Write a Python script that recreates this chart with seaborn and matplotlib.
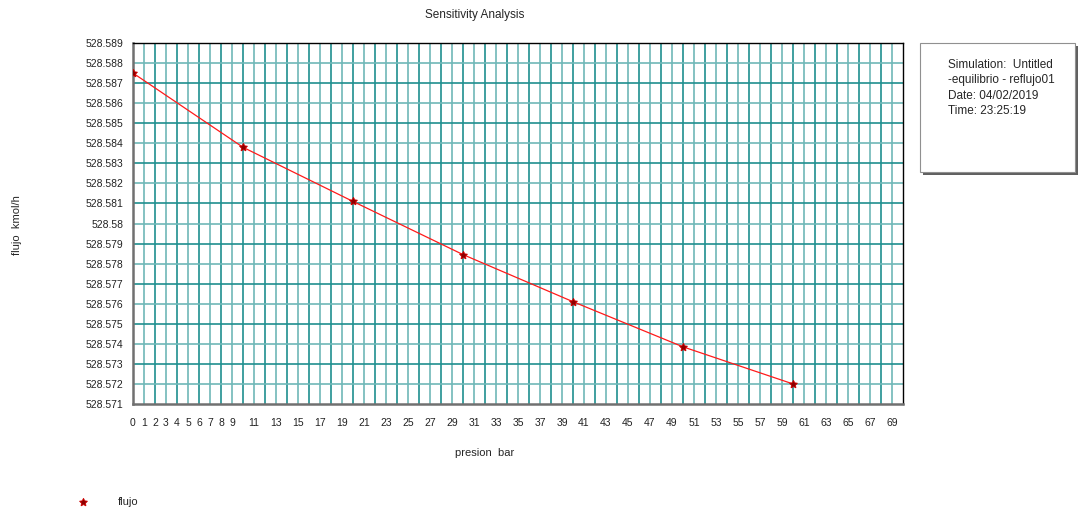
import numpy as np
import pandas as pd
import seaborn as sns
import matplotlib.pyplot as plt
from matplotlib.patches import Rectangle

# datos
presion = [0, 10, 20, 30, 40, 50, 60]
flujo = [528.5875, 528.5838, 528.5811, 528.57845, 528.5761, 528.57385, 528.5720]
y_ticks = [528.571 + 0.001 * i for i in range(19)]
x_labels = [str(i) if (i < 10 or i % 2 == 1) else '' for i in range(71)]
info_lines = ['Simulation:  Untitled', '-equilibrio - reflujo01', 'Date: 04/02/2019', 'Time: 23:25:19']

sns.set_style('white')
plt.rcParams['font.family'] = ['Liberation Sans', 'DejaVu Sans']

df = pd.DataFrame({'presion': presion, 'flujo': flujo})

fig = plt.figure(figsize=(10.81, 5.13), dpi=100)
ax = fig.add_axes([133 / 1081, 1 - 404 / 513, 770 / 1081, 361 / 513])

# rejilla alternada
for i in range(1, 70):
    ax.axvline(i, color='#1f8f8f' if i % 2 == 0 else '#6fb8b8', lw=1.2, zorder=1)
for j, v in enumerate(y_ticks[1:-1]):
    ax.axhline(v, color='#1f8f8f' if j % 2 == 1 else '#6fb8b8', lw=1.2, zorder=1)

sns.lineplot(data=df, x='presion', y='flujo', ax=ax, color='#ff1a1a', lw=0.9,
             marker=(5, 1), markersize=6, markerfacecolor='#8b0000',
             markeredgecolor='#d00000', markeredgewidth=0.6, zorder=3)

ax.set_xlim(0, 70)
ax.set_ylim(528.571, 528.589)
ax.set_xticks(range(71))
ax.set_xticklabels(x_labels)
ax.set_yticks(y_ticks)
ax.set_yticklabels([f'{v:.3f}'.rstrip('0') for v in y_ticks])
ax.tick_params(axis='both', labelsize=7.5, direction='out', colors='#222222', length=5, width=1, pad=2)
ax.tick_params(axis='x', length=8)
ax.set_xlabel('')
ax.set_ylabel('')
for s in ax.spines.values():
    s.set_color('#707070')
    s.set_linewidth(1.8)
ax.spines['top'].set_color('black')
ax.spines['top'].set_linewidth(1)
ax.spines['right'].set_color('black')
ax.spines['right'].set_linewidth(1)

fig.text(475 / 1081, 1 - 15 / 513, 'Sensitivity Analysis', ha='center', va='center', fontsize=8.5)
fig.text(485 / 1081, 1 - 453 / 513, 'presion  bar', ha='center', va='center', fontsize=8)
fig.text(17 / 1081, 1 - 225 / 513, 'flujo  kmol/h', ha='center', va='center', fontsize=8, rotation=90)

# leyenda
fig.lines.append(plt.Line2D([83 / 1081], [1 - 502 / 513], transform=fig.transFigure,
                            marker=(5, 1), markersize=6, color='#8b0000',
                            markeredgecolor='#d00000', markeredgewidth=0.6))
fig.text(118 / 1081, 1 - 502 / 513, 'flujo', ha='left', va='center', fontsize=8)

# cuadro de informacion
fig.patches.append(Rectangle((923 / 1081, 1 - 175 / 513), 155 / 1081, 129 / 513,
                             transform=fig.transFigure, facecolor='#606060', edgecolor='none'))
fig.patches.append(Rectangle((920 / 1081, 1 - 172 / 513), 155 / 1081, 129 / 513,
                             transform=fig.transFigure, facecolor='white', edgecolor='#909090', lw=0.8))
for k, line in enumerate(info_lines):
    fig.text(948 / 1081, 1 - (65 + 15.5 * k) / 513, line, ha='left', va='center', fontsize=8.5)

fig.savefig('out.png', dpi=100)
